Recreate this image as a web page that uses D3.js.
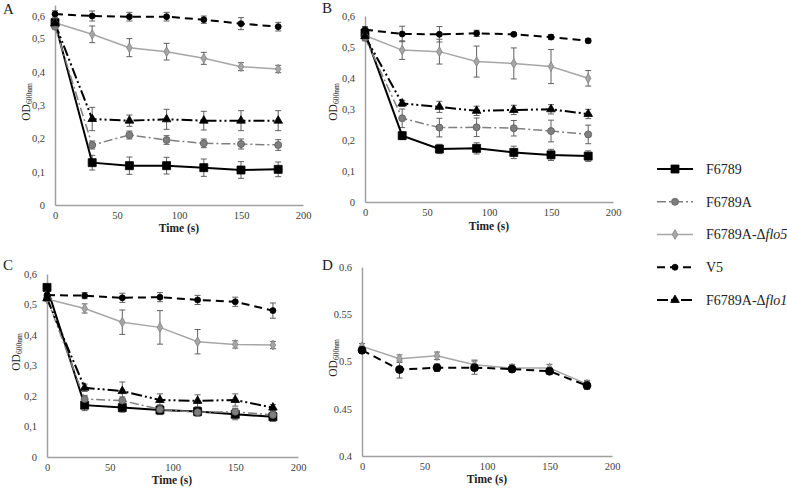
<!DOCTYPE html>
<html><head><meta charset="utf-8">
<script src="https://cdn.jsdelivr.net/npm/d3@7/dist/d3.min.js"></script>
<style>
html,body{margin:0;padding:0;background:#fff;}
svg{display:block;}
</style></head>
<body>
<svg id="chart" width="787" height="488"></svg>
<script>
// ---------- DATA ----------
const times = [0, 30, 60, 90, 120, 150, 180];
const xTicks = [0, 50, 100, 150, 200];
const yTicksMain = [0, 0.1, 0.2, 0.3, 0.4, 0.5, 0.6];
const yTicksD = [0.4, 0.45, 0.5, 0.55, 0.6];
const seriesNames = ["F6789", "F6789A", "F6789A-Δflo5", "V5", "F6789A-Δflo1"];

// Panel A
const A_F6789   = [0.547, 0.127, 0.118, 0.118, 0.112, 0.105, 0.107];
const A_F6789A  = [0.535, 0.180, 0.210, 0.195, 0.185, 0.183, 0.180];
const A_flo5    = [0.547, 0.512, 0.472, 0.460, 0.440, 0.415, 0.408];
const A_V5      = [0.573, 0.567, 0.565, 0.565, 0.556, 0.544, 0.535];
const A_flo1    = [0.545, 0.258, 0.253, 0.257, 0.253, 0.253, 0.253];
const A_F6789_err  = [0.005, 0.022, 0.026, 0.025, 0.026, 0.025, 0.022];
const A_F6789A_err = [0.005, 0.012, 0.012, 0.013, 0.013, 0.015, 0.016];
const A_flo5_err   = [0.005, 0.025, 0.027, 0.025, 0.018, 0.012, 0.011];
const A_V5_err     = [0.010, 0.015, 0.013, 0.013, 0.011, 0.018, 0.013];
const A_flo1_err   = [0.005, 0.035, 0.017, 0.030, 0.028, 0.030, 0.030];

// Panel B
const B_F6789   = [0.545, 0.214, 0.171, 0.173, 0.160, 0.152, 0.148];
const B_F6789A  = [0.530, 0.270, 0.240, 0.241, 0.238, 0.229, 0.218];
const B_flo5    = [0.537, 0.490, 0.485, 0.453, 0.447, 0.437, 0.399];
const B_V5      = [0.556, 0.542, 0.541, 0.544, 0.541, 0.532, 0.520];
const B_flo1    = [0.535, 0.318, 0.307, 0.294, 0.297, 0.299, 0.284];
const B_F6789_err  = [0.010, 0.012, 0.015, 0.018, 0.020, 0.018, 0.017];
const B_F6789A_err = [0.010, 0.030, 0.030, 0.030, 0.025, 0.035, 0.030];
const B_flo5_err   = [0.010, 0.030, 0.040, 0.050, 0.050, 0.055, 0.025];
const B_V5_err     = [0.010, 0.025, 0.025, 0.010, 0.005, 0.008, 0.007];
const B_flo1_err   = [0.010, 0.010, 0.018, 0.015, 0.015, 0.015, 0.015];

// Panel C
const C_F6789   = [0.556, 0.170, 0.162, 0.154, 0.149, 0.140, 0.132];
const C_F6789A  = [0.520, 0.190, 0.185, 0.156, 0.147, 0.148, 0.138];
const C_flo5    = [0.518, 0.487, 0.442, 0.425, 0.378, 0.369, 0.367];
const C_V5      = [0.531, 0.529, 0.522, 0.524, 0.515, 0.509, 0.480];
const C_flo1    = [0.520, 0.227, 0.216, 0.187, 0.184, 0.187, 0.162];
const C_F6789_err  = [0.005, 0.018, 0.015, 0.015, 0.015, 0.018, 0.015];
const C_F6789A_err = [0.005, 0.012, 0.012, 0.015, 0.012, 0.012, 0.012];
const C_flo5_err   = [0.005, 0.015, 0.040, 0.055, 0.040, 0.012, 0.012];
const C_V5_err     = [0.005, 0.010, 0.015, 0.015, 0.015, 0.015, 0.025];
const C_flo1_err   = [0.005, 0.012, 0.030, 0.020, 0.020, 0.020, 0.010];

// Panel D
const D_flo5    = [0.516, 0.503, 0.506, 0.4965, 0.493, 0.493, 0.476];
const D_V5      = [0.512, 0.4915, 0.4935, 0.4935, 0.492, 0.4897, 0.4745];
const D_flo5_err = [0.003, 0.004, 0.004, 0.005, 0.004, 0.004, 0.004];
const D_V5_err   = [0.003, 0.009, 0.004, 0.007, 0.003, 0.003, 0.004];

// ---------- STYLES ----------
const FONT = "'Liberation Serif', 'DejaVu Serif', serif";
const styles = {
  "F6789":        {stroke:"#000", width:2,   dash:null,              marker:"square",   fill:"#000",    mstroke:"#000",    size:8},
  "F6789A":       {stroke:"#7f7f7f", width:1.5, dash:"9,3,2,3",      marker:"circle",   fill:"#7f7f7f", mstroke:"#5a5a5a", size:7},
  "F6789A-Δflo5": {stroke:"#a6a6a6", width:1.5, dash:null,           marker:"diamond",  fill:"#a6a6a6", mstroke:"#808080", size:7},
  "V5":           {stroke:"#000", width:2,   dash:"8,5",             marker:"circle",   fill:"#000",    mstroke:"#000",    size:6},
  "F6789A-Δflo1": {stroke:"#000", width:2,   dash:"11,3,2,3,2,3",    marker:"triangle", fill:"#000",    mstroke:"#000",    size:8.5}
};

const panels = [
  {letter:"A", x0:55,  x1:303, yb:205, yt:5,   domain:[0,0.6], ticks:yTicksMain, comma:true,
   letterPos:[3,14], odPos:[27,102], timePos:[179,232], topNudge:11,
   series:[["F6789",A_F6789,A_F6789_err],["F6789A",A_F6789A,A_F6789A_err],["F6789A-Δflo5",A_flo5,A_flo5_err],["V5",A_V5,A_V5_err],["F6789A-Δflo1",A_flo1,A_flo1_err]]},
  {letter:"B", x0:365, x1:613, yb:202, yt:16,  domain:[0,0.6], ticks:yTicksMain, comma:true,
   letterPos:[322,13], odPos:[334,102], timePos:[489,230], topNudge:0,
   series:[["F6789",B_F6789,B_F6789_err],["F6789A",B_F6789A,B_F6789A_err],["F6789A-Δflo5",B_flo5,B_flo5_err],["V5",B_V5,B_V5_err],["F6789A-Δflo1",B_flo1,B_flo1_err]]},
  {letter:"C", x0:47,  x1:298, yb:457, yt:274, domain:[0,0.6], ticks:yTicksMain, comma:true,
   letterPos:[3,270], odPos:[17,352], timePos:[172,484], topNudge:0,
   series:[["F6789",C_F6789,C_F6789_err],["F6789A",C_F6789A,C_F6789A_err],["F6789A-Δflo5",C_flo5,C_flo5_err],["V5",C_V5,C_V5_err],["F6789A-Δflo1",C_flo1,C_flo1_err]]},
  {letter:"D", x0:362, x1:612, yb:456, yt:267, domain:[0.4,0.6], ticks:yTicksD, comma:false,
   letterPos:[322,270], odPos:[334,358], timePos:[487,483], topNudge:0,
   series:[["F6789A-Δflo5",D_flo5,D_flo5_err],["V5",D_V5,D_V5_err]]}
];

const svg = d3.select("#chart");
const axisColor = "#a0a0a0";
const textColor = "#404040";

function markerPath(type, size) {
  const s = size;
  if (type === "square") return d3.symbol(d3.symbolSquare, s*s)();
  if (type === "circle") return d3.symbol(d3.symbolCircle, Math.PI*(s/2)*(s/2))();
  if (type === "diamond") return d3.symbol(d3.symbolDiamond, s*s*0.55)();
  if (type === "triangle") return d3.symbol(d3.symbolTriangle, s*s*0.45)();
}

panels.forEach(p => {
  const g = svg.append("g");
  const x = d3.scaleLinear().domain([0, 200]).range([p.x0, p.x1]);
  const y = d3.scaleLinear().domain(p.domain).range([p.yb, p.yt]);
  const fmt = v => {
    if (v === 0) return "0";
    if (p.comma) return d3.format(".1f")(v).replace(".", ",");
    return String(+v.toFixed(2));
  };

  // axes
  const xa = g.append("g").attr("transform", `translate(0,${p.yb})`)
    .call(d3.axisBottom(x).tickValues(xTicks).tickSize(0).tickPadding(7));
  const ya = g.append("g").attr("transform", `translate(${p.x0},0)`)
    .call(d3.axisLeft(y).tickValues(p.ticks).tickFormat(fmt).tickSize(0).tickPadding(10));
  [xa, ya].forEach(a => {
    a.attr("font-family", FONT);
    a.select(".domain").attr("stroke", axisColor).attr("stroke-width", 1.5);
    a.selectAll("text").attr("fill", textColor).attr("font-size", 10.5)
      .attr("font-family", FONT);
  });
  if (p.topNudge) {
    ya.selectAll(".tick").filter(d => d === p.domain[1]).select("text")
      .attr("dy", "0.32em").attr("y", p.topNudge);
  }

  // panel letter
  g.append("text").attr("x", p.letterPos[0]).attr("y", p.letterPos[1])
    .attr("font-family", FONT).attr("font-size", 15).attr("fill", "#222").text(p.letter);

  // y title OD600nm
  const od = g.append("text")
    .attr("transform", `translate(${p.odPos[0]},${p.odPos[1]}) rotate(-90)`)
    .attr("font-family", FONT)
    .attr("text-anchor", "middle").attr("fill", "#222").attr("font-size", 11.5)
    .attr("dominant-baseline", "middle");
  od.append("tspan").text("OD");
  od.append("tspan").attr("font-size", 7.5).attr("dy", 3).text("600nm");

  // x title
  g.append("text").attr("x", p.timePos[0]).attr("y", p.timePos[1])
    .attr("font-family", FONT)
    .attr("text-anchor", "middle").attr("font-weight", "bold").attr("font-size", 11.5)
    .attr("fill", "#222").text("Time (s)");

  const line = d3.line().x((d,i) => x(times[i])).y(d => y(d));

  // error bars
  p.series.forEach(([name, vals, errs]) => {
    const eg = g.append("g").attr("stroke", "#606060").attr("stroke-width", 1);
    vals.forEach((v, i) => {
      const cx = x(times[i]), lo = y(v - errs[i]), hi = y(v + errs[i]);
      eg.append("line").attr("x1", cx).attr("x2", cx).attr("y1", lo).attr("y2", hi);
      eg.append("line").attr("x1", cx-3).attr("x2", cx+3).attr("y1", lo).attr("y2", lo);
      eg.append("line").attr("x1", cx-3).attr("x2", cx+3).attr("y1", hi).attr("y2", hi);
    });
  });
  // lines
  p.series.forEach(([name, vals]) => {
    const st = styles[name];
    g.append("path").datum(vals).attr("d", line).attr("fill", "none")
      .attr("stroke", st.stroke).attr("stroke-width", st.width)
      .attr("stroke-dasharray", st.dash);
  });
  // markers
  p.series.forEach(([name, vals]) => {
    const st = styles[name];
    const size = (p.letter === "D" && name === "V5") ? 8 : st.size;
    g.append("g").selectAll("path").data(vals).join("path")
      .attr("transform", (d,i) => `translate(${x(times[i])},${y(d)})`)
      .attr("d", markerPath(st.marker, size))
      .attr("fill", st.fill).attr("stroke", st.mstroke).attr("stroke-width", 0.8);
  });
});

// ---------- LEGEND ----------
const legendY = d3.scalePoint().domain(seriesNames).range([169, 300]);
const lg = svg.append("g");
seriesNames.forEach(name => {
  const st = styles[name];
  const yy = legendY(name);
  lg.append("line").attr("x1", 657).attr("x2", 693).attr("y1", yy).attr("y2", yy)
    .attr("stroke", st.stroke).attr("stroke-width", st.width).attr("stroke-dasharray", st.dash);
  lg.append("path").attr("transform", `translate(675,${yy})`).attr("d", markerPath(st.marker, st.size))
    .attr("fill", st.fill).attr("stroke", st.mstroke).attr("stroke-width", 0.8);
  const t = lg.append("text").attr("x", 706).attr("y", yy).attr("dy", "0.35em")
    .attr("font-family", FONT).attr("font-size", 14).attr("fill", "#222");
  const m = name.match(/^(.*Δ)(flo\d)$/);
  if (m) {
    t.append("tspan").text(m[1]);
    t.append("tspan").attr("font-style", "italic").text(m[2]);
  } else {
    t.text(name);
  }
});
</script>
</body></html>
